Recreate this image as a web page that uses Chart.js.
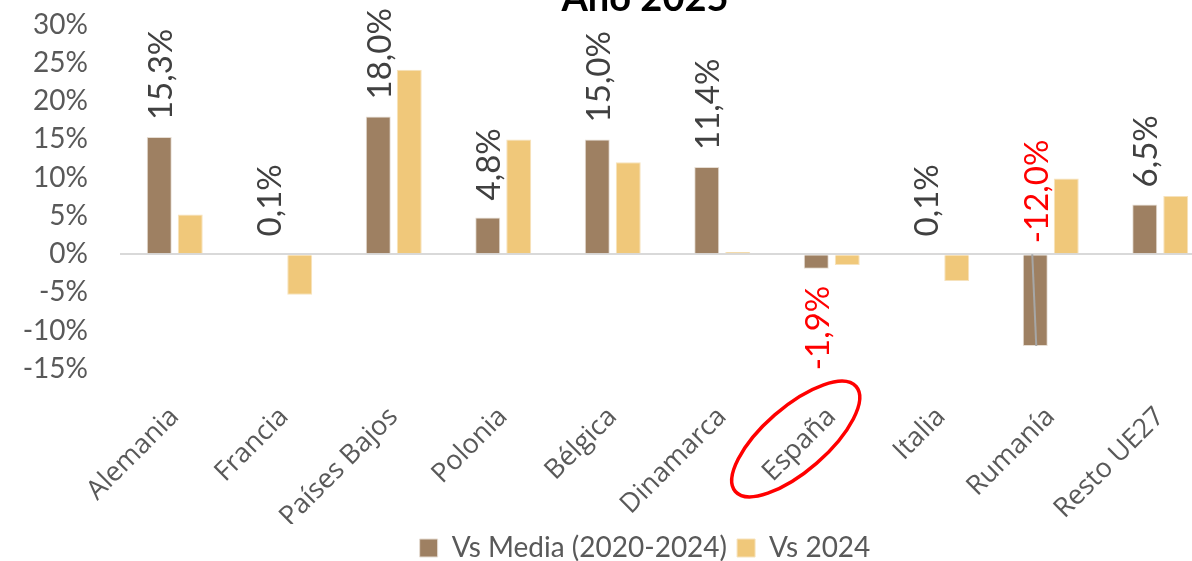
<!DOCTYPE html>
<html>
<head>
<meta charset="utf-8">
<script src="https://cdn.jsdelivr.net/npm/chart.js@4.4.1/dist/chart.umd.min.js"></script>
<style>
  html,body{margin:0;padding:0;background:#fff;overflow:hidden;width:1192px;height:561px;}
  #wrap{position:absolute;left:0;top:-50px;width:1290px;height:630px;}
</style>
</head>
<body>
<div id="wrap"><canvas id="chart" width="1290" height="630"></canvas></div>
<script>
/* ===== data ===== */
const paises = ['Alemania','Francia','Países Bajos','Polonia','Bélgica','Dinamarca','España','Italia','Rumanía','Resto UE27'];
const vsMedia = [15.3, 0.1, 18.0, 4.8, 15.0, 11.4, -1.9, 0.1, -12.0, 6.5];
const vs2024  = [5.2, -5.3, 24.1, 15.0, 12.0, 0.3, -1.4, -3.5, 9.9, 7.6];
const serieNombres = ['Vs Media (2020-2024)', 'Vs 2024'];
const yTicks = {min:-15, max:30, step:5};
const destacado = 'España';

const GRIS = '#595959';
const fmt = v => v.toFixed(1).replace('.', ',') + '%';

// etiquetas giradas sobre la serie "Vs Media"
const etiquetas = {
  id:'etiquetas',
  afterDatasetsDraw(chart){
    const ctx = chart.ctx, meta = chart.getDatasetMeta(0);
    const zeroY = chart.scales.y.getPixelForValue(0);
    ctx.save();
    ctx.font = '33px Lato';
    ctx.textBaseline = 'middle';
    meta.data.forEach((bar, i) => {
      const v = vsMedia[i];
      let oy, align;
      if(v >= 0){ oy = bar.y - 17; align = 'left'; ctx.fillStyle = '#404040'; }
      else if(bar.y - zeroY > 60){
        // etiqueta movida encima del cero, con línea guía
        oy = zeroY - 11; align = 'left'; ctx.fillStyle = '#FF0000';
        ctx.strokeStyle = '#A6A6A6'; ctx.lineWidth = 2;
        ctx.beginPath(); ctx.moveTo(bar.x - 3, zeroY); ctx.lineTo(bar.x + 1, bar.y); ctx.stroke();
      }
      else { oy = bar.y + 17; align = 'right'; ctx.fillStyle = '#FF0000'; }
      ctx.save();
      ctx.translate(bar.x + 2, oy);
      ctx.rotate(-Math.PI/2);
      ctx.textAlign = align;
      ctx.fillText(fmt(v), 0, 0);
      ctx.restore();
    });
    ctx.restore();
  },
  afterDraw(chart){
    const xs = chart.scales.x, ctx = chart.ctx;
    const i = paises.indexOf(destacado);
    const cx = xs.getPixelForValue(i) - 36, cy = xs.top + 70;
    ctx.save();
    ctx.strokeStyle = '#FF0000'; ctx.lineWidth = 3.5;
    ctx.beginPath();
    ctx.ellipse(cx, cy, 80, 32, -41*Math.PI/180, 0, Math.PI*2);
    ctx.stroke();
    ctx.restore();
  }
};

new Chart(document.getElementById('chart'), {
  type:'bar',
  data:{
    labels: paises,
    datasets:[
      {label:serieNombres[0], data:vsMedia, backgroundColor:'#9E8062', borderColor:'#E6DDD3', borderWidth:1},
      {label:serieNombres[1], data:vs2024, backgroundColor:'#F0C87A', borderColor:'#F6E2BC', borderWidth:1}
    ]
  },
  options:{
    responsive:false, animation:false,
    categoryPercentage:0.566, barPercentage:0.806,
    layout:{padding:{top:0, right:0, bottom:8, left:0}},
    plugins:{
      title:{display:true, text:'Año 2025', color:'#000', font:{family:'Lato', size:38, weight:'bold'}, padding:{top:26, bottom:3}},
      legend:{position:'bottom', labels:{color:GRIS, font:{family:'Lato', size:28}, boxWidth:18, boxHeight:18, padding:10}},
      tooltip:{enabled:false}
    },
    scales:{
      x:{
        grid:{display:false}, border:{display:false},
        ticks:{color:GRIS, font:{family:"'Open Sans'", size:27}, minRotation:45, maxRotation:45, autoSkip:false, padding:24},
        afterFit(s){ s.height = 155; }
      },
      y:{
        min:yTicks.min, max:yTicks.max,
        border:{display:false},
        grid:{drawTicks:false, lineWidth:2, color:c => c.tick && c.tick.value === 0 ? '#D9D9D9' : 'rgba(0,0,0,0)'},
        ticks:{stepSize:yTicks.step, color:GRIS, font:{family:'Lato', size:28}, padding:32, callback:v => v + '%'},
        afterFit(s){ s.width = 120; }
      },
      // espacio vacío a la derecha (el gráfico original sigue fuera del recorte)
      yDer:{
        position:'right', display:true,
        border:{display:false}, grid:{display:false}, ticks:{display:false},
        afterFit(s){ s.width = 75; }
      }
    }
  },
  plugins:[etiquetas]
});
</script>
</body>
</html>
